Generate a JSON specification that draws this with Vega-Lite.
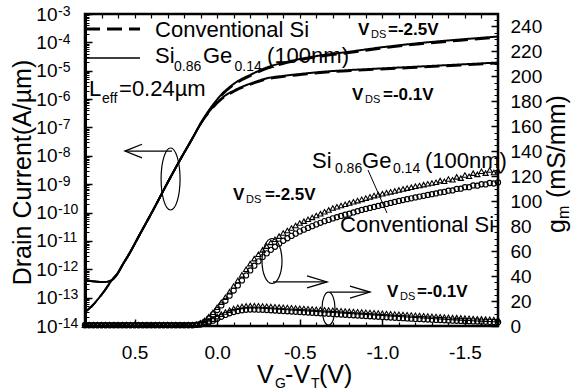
{
  "$schema": "https://vega.github.io/schema/vega-lite/v6.json",
  "width": 413,
  "height": 312,
  "autosize": {"type": "none"},
  "padding": {"left": 85, "top": 14, "right": 74, "bottom": 66},
  "background": "white",
  "config": {
    "font": "Liberation Sans",
    "view": {"stroke": "black", "strokeWidth": 2.5},
    "axis": {
      "grid": false,
      "labelColor": "black",
      "tickColor": "black",
      "domainColor": "black",
      "labelFont": "Liberation Sans",
      "labelFontSize": 19,
      "labelFlush": false,
      "labelOverlap": false,
      "labelBound": false,
      "titleColor": "black",
      "titleFont": "Liberation Sans",
      "titleFontWeight": "normal"
    }
  },
  "datasets": {
    "drain": [
      {"v": 0.8, "i": 4.18e-13, "c": "SiGe", "d": "-2.5"},
      {"v": 0.739, "i": 3.7e-13, "c": "SiGe", "d": "-2.5"},
      {"v": 0.679, "i": 3.55e-13, "c": "SiGe", "d": "-2.5"},
      {"v": 0.637, "i": 4.18e-13, "c": "SiGe", "d": "-2.5"},
      {"v": 0.6, "i": 7.38e-13, "c": "SiGe", "d": "-2.5"},
      {"v": 0.57, "i": 1.53e-12, "c": "SiGe", "d": "-2.5"},
      {"v": 0.54, "i": 2.93e-12, "c": "SiGe", "d": "-2.5"},
      {"v": 0.467, "i": 1.75e-11, "c": "SiGe", "d": "-2.5"},
      {"v": 0.394, "i": 1.04e-10, "c": "SiGe", "d": "-2.5"},
      {"v": 0.298, "i": 1.19e-9, "c": "SiGe", "d": "-2.5"},
      {"v": 0.225, "i": 7.11e-9, "c": "SiGe", "d": "-2.5"},
      {"v": 0.152, "i": 3.91e-8, "c": "SiGe", "d": "-2.5"},
      {"v": 0.092, "i": 1.69e-7, "c": "SiGe", "d": "-2.5"},
      {"v": 0.031, "i": 5.7e-7, "c": "SiGe", "d": "-2.5"},
      {"v": -0.029, "i": 1.51e-6, "c": "SiGe", "d": "-2.5"},
      {"v": -0.108, "i": 3.69e-6, "c": "SiGe", "d": "-2.5"},
      {"v": -0.211, "i": 7.66e-6, "c": "SiGe", "d": "-2.5"},
      {"v": -0.308, "i": 1.35e-5, "c": "SiGe", "d": "-2.5"},
      {"v": -0.392, "i": 1.87e-5, "c": "SiGe", "d": "-2.5"},
      {"v": -0.501, "i": 2.59e-5, "c": "SiGe", "d": "-2.5"},
      {"v": -0.623, "i": 3.44e-5, "c": "SiGe", "d": "-2.5"},
      {"v": -0.786, "i": 4.57e-5, "c": "SiGe", "d": "-2.5"},
      {"v": -0.986, "i": 6.59e-5, "c": "SiGe", "d": "-2.5"},
      {"v": -1.228, "i": 9.48e-5, "c": "SiGe", "d": "-2.5"},
      {"v": -1.47, "i": 1.26e-4, "c": "SiGe", "d": "-2.5"},
      {"v": -1.7, "i": 1.61e-4, "c": "SiGe", "d": "-2.5"},
      {"v": 0.8, "i": 4.18e-13, "c": "Si", "d": "-2.5"},
      {"v": 0.739, "i": 3.7e-13, "c": "Si", "d": "-2.5"},
      {"v": 0.679, "i": 3.55e-13, "c": "Si", "d": "-2.5"},
      {"v": 0.637, "i": 4.18e-13, "c": "Si", "d": "-2.5"},
      {"v": 0.6, "i": 7.38e-13, "c": "Si", "d": "-2.5"},
      {"v": 0.57, "i": 1.53e-12, "c": "Si", "d": "-2.5"},
      {"v": 0.54, "i": 2.93e-12, "c": "Si", "d": "-2.5"},
      {"v": 0.467, "i": 1.75e-11, "c": "Si", "d": "-2.5"},
      {"v": 0.394, "i": 1.04e-10, "c": "Si", "d": "-2.5"},
      {"v": 0.298, "i": 1.19e-9, "c": "Si", "d": "-2.5"},
      {"v": 0.225, "i": 7.11e-9, "c": "Si", "d": "-2.5"},
      {"v": 0.152, "i": 3.91e-8, "c": "Si", "d": "-2.5"},
      {"v": 0.092, "i": 1.6e-7, "c": "Si", "d": "-2.5"},
      {"v": 0.031, "i": 5.3e-7, "c": "Si", "d": "-2.5"},
      {"v": -0.029, "i": 1.38e-6, "c": "Si", "d": "-2.5"},
      {"v": -0.108, "i": 3.35e-6, "c": "Si", "d": "-2.5"},
      {"v": -0.211, "i": 6.9e-6, "c": "Si", "d": "-2.5"},
      {"v": -0.308, "i": 1.22e-5, "c": "Si", "d": "-2.5"},
      {"v": -0.392, "i": 1.69e-5, "c": "Si", "d": "-2.5"},
      {"v": -0.501, "i": 2.34e-5, "c": "Si", "d": "-2.5"},
      {"v": -0.623, "i": 3.1e-5, "c": "Si", "d": "-2.5"},
      {"v": -0.786, "i": 4.12e-5, "c": "Si", "d": "-2.5"},
      {"v": -0.986, "i": 5.95e-5, "c": "Si", "d": "-2.5"},
      {"v": -1.228, "i": 8.6e-5, "c": "Si", "d": "-2.5"},
      {"v": -1.47, "i": 1.14e-4, "c": "Si", "d": "-2.5"},
      {"v": -1.7, "i": 1.46e-4, "c": "Si", "d": "-2.5"},
      {"v": 0.8, "i": 3.1e-14, "c": "SiGe", "d": "-0.1"},
      {"v": 0.758, "i": 5.06e-14, "c": "SiGe", "d": "-0.1"},
      {"v": 0.721, "i": 8.93e-14, "c": "SiGe", "d": "-0.1"},
      {"v": 0.679, "i": 1.85e-13, "c": "SiGe", "d": "-0.1"},
      {"v": 0.637, "i": 4.18e-13, "c": "SiGe", "d": "-0.1"},
      {"v": 0.6, "i": 7.6e-13, "c": "SiGe", "d": "-0.1"},
      {"v": 0.57, "i": 1.53e-12, "c": "SiGe", "d": "-0.1"},
      {"v": 0.54, "i": 2.93e-12, "c": "SiGe", "d": "-0.1"},
      {"v": 0.467, "i": 1.75e-11, "c": "SiGe", "d": "-0.1"},
      {"v": 0.394, "i": 1.04e-10, "c": "SiGe", "d": "-0.1"},
      {"v": 0.298, "i": 1.19e-9, "c": "SiGe", "d": "-0.1"},
      {"v": 0.225, "i": 7.11e-9, "c": "SiGe", "d": "-0.1"},
      {"v": 0.152, "i": 3.91e-8, "c": "SiGe", "d": "-0.1"},
      {"v": 0.092, "i": 1.62e-7, "c": "SiGe", "d": "-0.1"},
      {"v": 0.031, "i": 4.85e-7, "c": "SiGe", "d": "-0.1"},
      {"v": -0.029, "i": 1.09e-6, "c": "SiGe", "d": "-0.1"},
      {"v": -0.108, "i": 2.09e-6, "c": "SiGe", "d": "-0.1"},
      {"v": -0.211, "i": 3.69e-6, "c": "SiGe", "d": "-0.1"},
      {"v": -0.308, "i": 5.53e-6, "c": "SiGe", "d": "-0.1"},
      {"v": -0.392, "i": 6.52e-6, "c": "SiGe", "d": "-0.1"},
      {"v": -0.501, "i": 7.66e-6, "c": "SiGe", "d": "-0.1"},
      {"v": -0.623, "i": 9.02e-6, "c": "SiGe", "d": "-0.1"},
      {"v": -0.804, "i": 1.06e-5, "c": "SiGe", "d": "-0.1"},
      {"v": -0.986, "i": 1.2e-5, "c": "SiGe", "d": "-0.1"},
      {"v": -1.228, "i": 1.41e-5, "c": "SiGe", "d": "-0.1"},
      {"v": -1.47, "i": 1.66e-5, "c": "SiGe", "d": "-0.1"},
      {"v": -1.7, "i": 1.95e-5, "c": "SiGe", "d": "-0.1"},
      {"v": 0.8, "i": 3.1e-14, "c": "Si", "d": "-0.1"},
      {"v": 0.758, "i": 5.06e-14, "c": "Si", "d": "-0.1"},
      {"v": 0.721, "i": 8.93e-14, "c": "Si", "d": "-0.1"},
      {"v": 0.679, "i": 1.85e-13, "c": "Si", "d": "-0.1"},
      {"v": 0.637, "i": 4.18e-13, "c": "Si", "d": "-0.1"},
      {"v": 0.6, "i": 7.6e-13, "c": "Si", "d": "-0.1"},
      {"v": 0.57, "i": 1.53e-12, "c": "Si", "d": "-0.1"},
      {"v": 0.54, "i": 2.93e-12, "c": "Si", "d": "-0.1"},
      {"v": 0.467, "i": 1.75e-11, "c": "Si", "d": "-0.1"},
      {"v": 0.394, "i": 1.04e-10, "c": "Si", "d": "-0.1"},
      {"v": 0.298, "i": 1.19e-9, "c": "Si", "d": "-0.1"},
      {"v": 0.225, "i": 7.11e-9, "c": "Si", "d": "-0.1"},
      {"v": 0.152, "i": 3.91e-8, "c": "Si", "d": "-0.1"},
      {"v": 0.092, "i": 1.55e-7, "c": "Si", "d": "-0.1"},
      {"v": 0.031, "i": 4.5e-7, "c": "Si", "d": "-0.1"},
      {"v": -0.029, "i": 1.0e-6, "c": "Si", "d": "-0.1"},
      {"v": -0.108, "i": 1.92e-6, "c": "Si", "d": "-0.1"},
      {"v": -0.211, "i": 3.4e-6, "c": "Si", "d": "-0.1"},
      {"v": -0.308, "i": 5.1e-6, "c": "Si", "d": "-0.1"},
      {"v": -0.392, "i": 6.0e-6, "c": "Si", "d": "-0.1"},
      {"v": -0.501, "i": 7.05e-6, "c": "Si", "d": "-0.1"},
      {"v": -0.623, "i": 8.3e-6, "c": "Si", "d": "-0.1"},
      {"v": -0.804, "i": 9.75e-6, "c": "Si", "d": "-0.1"},
      {"v": -0.986, "i": 1.1e-5, "c": "Si", "d": "-0.1"},
      {"v": -1.228, "i": 1.3e-5, "c": "Si", "d": "-0.1"},
      {"v": -1.47, "i": 1.53e-5, "c": "Si", "d": "-0.1"},
      {"v": -1.7, "i": 1.8e-5, "c": "Si", "d": "-0.1"}
    ],
    "key": [
      {"v": 0.8, "i": 2.96e-4, "c": "Si"},
      {"v": 0.467, "i": 2.96e-4, "c": "Si"},
      {"v": 0.8, "i": 2.81e-5, "c": "SiGe"},
      {"v": 0.467, "i": 2.81e-5, "c": "SiGe"}
    ],
    "decades": [
      {"v": 0.8, "i": 1e-3, "t": "-3"}, {"v": 0.8, "i": 1e-4, "t": "-4"}, {"v": 0.8, "i": 1e-5, "t": "-5"},
      {"v": 0.8, "i": 1e-6, "t": "-6"}, {"v": 0.8, "i": 1e-7, "t": "-7"}, {"v": 0.8, "i": 1e-8, "t": "-8"},
      {"v": 0.8, "i": 1e-9, "t": "-9"}, {"v": 0.8, "i": 1e-10, "t": "-10"}, {"v": 0.8, "i": 1e-11, "t": "-11"},
      {"v": 0.8, "i": 1e-12, "t": "-12"}, {"v": 0.8, "i": 1e-13, "t": "-13"}, {"v": 0.8, "i": 1e-14, "t": "-14"}
    ],
    "gm": [
      {"v":0.8,"g":0.7,"c":"Si","d":"-2.5"},{"v":0.775,"g":0.7,"c":"Si","d":"-2.5"},{"v":0.75,"g":0.7,"c":"Si","d":"-2.5"},{"v":0.725,"g":0.7,"c":"Si","d":"-2.5"},{"v":0.7,"g":0.7,"c":"Si","d":"-2.5"},{"v":0.675,"g":0.7,"c":"Si","d":"-2.5"},{"v":0.65,"g":0.7,"c":"Si","d":"-2.5"},{"v":0.625,"g":0.7,"c":"Si","d":"-2.5"},{"v":0.6,"g":0.7,"c":"Si","d":"-2.5"},{"v":0.575,"g":0.7,"c":"Si","d":"-2.5"},{"v":0.55,"g":0.7,"c":"Si","d":"-2.5"},{"v":0.525,"g":0.7,"c":"Si","d":"-2.5"},{"v":0.5,"g":0.7,"c":"Si","d":"-2.5"},{"v":0.475,"g":0.7,"c":"Si","d":"-2.5"},{"v":0.45,"g":0.7,"c":"Si","d":"-2.5"},{"v":0.425,"g":0.7,"c":"Si","d":"-2.5"},{"v":0.4,"g":0.7,"c":"Si","d":"-2.5"},{"v":0.375,"g":0.7,"c":"Si","d":"-2.5"},{"v":0.35,"g":0.7,"c":"Si","d":"-2.5"},{"v":0.325,"g":0.7,"c":"Si","d":"-2.5"},{"v":0.3,"g":0.7,"c":"Si","d":"-2.5"},{"v":0.275,"g":0.7,"c":"Si","d":"-2.5"},{"v":0.25,"g":0.7,"c":"Si","d":"-2.5"},{"v":0.225,"g":0.7,"c":"Si","d":"-2.5"},{"v":0.2,"g":0.7,"c":"Si","d":"-2.5"},{"v":0.175,"g":0.7,"c":"Si","d":"-2.5"},{"v":0.15,"g":0.7,"c":"Si","d":"-2.5"},
      {"v":0.125,"g":1,"c":"Si","d":"-2.5"},{"v":0.1,"g":1.8,"c":"Si","d":"-2.5"},{"v":0.075,"g":3.4,"c":"Si","d":"-2.5"},{"v":0.05,"g":6,"c":"Si","d":"-2.5"},{"v":0.025,"g":9.3,"c":"Si","d":"-2.5"},{"v":0,"g":12.8,"c":"Si","d":"-2.5"},{"v":-0.025,"g":16.5,"c":"Si","d":"-2.5"},{"v":-0.05,"g":20.2,"c":"Si","d":"-2.5"},{"v":-0.075,"g":24.3,"c":"Si","d":"-2.5"},{"v":-0.1,"g":28.4,"c":"Si","d":"-2.5"},{"v":-0.125,"g":32.5,"c":"Si","d":"-2.5"},{"v":-0.15,"g":36.5,"c":"Si","d":"-2.5"},{"v":-0.175,"g":40.5,"c":"Si","d":"-2.5"},{"v":-0.2,"g":44.5,"c":"Si","d":"-2.5"},{"v":-0.225,"g":48.3,"c":"Si","d":"-2.5"},{"v":-0.25,"g":51.8,"c":"Si","d":"-2.5"},{"v":-0.275,"g":55.2,"c":"Si","d":"-2.5"},{"v":-0.3,"g":58.2,"c":"Si","d":"-2.5"},{"v":-0.325,"g":61,"c":"Si","d":"-2.5"},{"v":-0.35,"g":63.5,"c":"Si","d":"-2.5"},{"v":-0.375,"g":66,"c":"Si","d":"-2.5"},{"v":-0.4,"g":68.3,"c":"Si","d":"-2.5"},{"v":-0.425,"g":70.3,"c":"Si","d":"-2.5"},{"v":-0.45,"g":72.2,"c":"Si","d":"-2.5"},{"v":-0.475,"g":74,"c":"Si","d":"-2.5"},{"v":-0.5,"g":75.8,"c":"Si","d":"-2.5"},{"v":-0.525,"g":77.2,"c":"Si","d":"-2.5"},{"v":-0.55,"g":78.6,"c":"Si","d":"-2.5"},{"v":-0.575,"g":80,"c":"Si","d":"-2.5"},{"v":-0.6,"g":81.4,"c":"Si","d":"-2.5"},{"v":-0.625,"g":82.7,"c":"Si","d":"-2.5"},{"v":-0.65,"g":84,"c":"Si","d":"-2.5"},{"v":-0.675,"g":85,"c":"Si","d":"-2.5"},{"v":-0.7,"g":86.2,"c":"Si","d":"-2.5"},{"v":-0.725,"g":87.2,"c":"Si","d":"-2.5"},{"v":-0.75,"g":88.2,"c":"Si","d":"-2.5"},{"v":-0.775,"g":89.2,"c":"Si","d":"-2.5"},{"v":-0.8,"g":90,"c":"Si","d":"-2.5"},{"v":-0.825,"g":91,"c":"Si","d":"-2.5"},{"v":-0.85,"g":92,"c":"Si","d":"-2.5"},{"v":-0.875,"g":93,"c":"Si","d":"-2.5"},{"v":-0.9,"g":93.8,"c":"Si","d":"-2.5"},{"v":-0.925,"g":94.6,"c":"Si","d":"-2.5"},{"v":-0.95,"g":95.4,"c":"Si","d":"-2.5"},{"v":-0.975,"g":96.2,"c":"Si","d":"-2.5"},{"v":-1,"g":97,"c":"Si","d":"-2.5"},{"v":-1.025,"g":97.8,"c":"Si","d":"-2.5"},{"v":-1.05,"g":98.6,"c":"Si","d":"-2.5"},{"v":-1.075,"g":99.4,"c":"Si","d":"-2.5"},{"v":-1.1,"g":100.2,"c":"Si","d":"-2.5"},{"v":-1.125,"g":100.9,"c":"Si","d":"-2.5"},{"v":-1.15,"g":101.6,"c":"Si","d":"-2.5"},{"v":-1.175,"g":102.3,"c":"Si","d":"-2.5"},{"v":-1.2,"g":103,"c":"Si","d":"-2.5"},{"v":-1.225,"g":103.7,"c":"Si","d":"-2.5"},{"v":-1.25,"g":104.3,"c":"Si","d":"-2.5"},{"v":-1.275,"g":105,"c":"Si","d":"-2.5"},{"v":-1.3,"g":105.6,"c":"Si","d":"-2.5"},{"v":-1.325,"g":106.2,"c":"Si","d":"-2.5"},{"v":-1.35,"g":107,"c":"Si","d":"-2.5"},{"v":-1.375,"g":107.4,"c":"Si","d":"-2.5"},{"v":-1.4,"g":108.4,"c":"Si","d":"-2.5"},{"v":-1.425,"g":108.6,"c":"Si","d":"-2.5"},{"v":-1.45,"g":109.8,"c":"Si","d":"-2.5"},{"v":-1.475,"g":110,"c":"Si","d":"-2.5"},{"v":-1.5,"g":111.2,"c":"Si","d":"-2.5"},{"v":-1.525,"g":111.2,"c":"Si","d":"-2.5"},{"v":-1.55,"g":112.6,"c":"Si","d":"-2.5"},{"v":-1.575,"g":112.4,"c":"Si","d":"-2.5"},{"v":-1.6,"g":113.6,"c":"Si","d":"-2.5"},{"v":-1.625,"g":113.4,"c":"Si","d":"-2.5"},{"v":-1.65,"g":114.6,"c":"Si","d":"-2.5"},{"v":-1.675,"g":114.2,"c":"Si","d":"-2.5"},{"v":-1.7,"g":115,"c":"Si","d":"-2.5"},
      {"v":0.8,"g":0.7,"c":"Si","d":"-0.1"},{"v":0.775,"g":0.7,"c":"Si","d":"-0.1"},{"v":0.75,"g":0.7,"c":"Si","d":"-0.1"},{"v":0.725,"g":0.7,"c":"Si","d":"-0.1"},{"v":0.7,"g":0.7,"c":"Si","d":"-0.1"},{"v":0.675,"g":0.7,"c":"Si","d":"-0.1"},{"v":0.65,"g":0.7,"c":"Si","d":"-0.1"},{"v":0.625,"g":0.7,"c":"Si","d":"-0.1"},{"v":0.6,"g":0.7,"c":"Si","d":"-0.1"},{"v":0.575,"g":0.7,"c":"Si","d":"-0.1"},{"v":0.55,"g":0.7,"c":"Si","d":"-0.1"},{"v":0.525,"g":0.7,"c":"Si","d":"-0.1"},{"v":0.5,"g":0.7,"c":"Si","d":"-0.1"},{"v":0.475,"g":0.7,"c":"Si","d":"-0.1"},{"v":0.45,"g":0.7,"c":"Si","d":"-0.1"},{"v":0.425,"g":0.7,"c":"Si","d":"-0.1"},{"v":0.4,"g":0.7,"c":"Si","d":"-0.1"},{"v":0.375,"g":0.7,"c":"Si","d":"-0.1"},{"v":0.35,"g":0.7,"c":"Si","d":"-0.1"},{"v":0.325,"g":0.7,"c":"Si","d":"-0.1"},{"v":0.3,"g":0.7,"c":"Si","d":"-0.1"},{"v":0.275,"g":0.7,"c":"Si","d":"-0.1"},{"v":0.25,"g":0.7,"c":"Si","d":"-0.1"},{"v":0.225,"g":0.7,"c":"Si","d":"-0.1"},{"v":0.2,"g":0.7,"c":"Si","d":"-0.1"},{"v":0.175,"g":0.7,"c":"Si","d":"-0.1"},{"v":0.15,"g":0.7,"c":"Si","d":"-0.1"},
      {"v":0.125,"g":0.9,"c":"Si","d":"-0.1"},{"v":0.1,"g":1.2,"c":"Si","d":"-0.1"},{"v":0.075,"g":2,"c":"Si","d":"-0.1"},{"v":0.05,"g":3,"c":"Si","d":"-0.1"},{"v":0.025,"g":4.3,"c":"Si","d":"-0.1"},{"v":0,"g":5.8,"c":"Si","d":"-0.1"},{"v":-0.025,"g":7.4,"c":"Si","d":"-0.1"},{"v":-0.05,"g":8.9,"c":"Si","d":"-0.1"},{"v":-0.075,"g":10.2,"c":"Si","d":"-0.1"},{"v":-0.1,"g":11.2,"c":"Si","d":"-0.1"},{"v":-0.125,"g":12,"c":"Si","d":"-0.1"},{"v":-0.15,"g":12.6,"c":"Si","d":"-0.1"},{"v":-0.175,"g":13,"c":"Si","d":"-0.1"},{"v":-0.2,"g":13.2,"c":"Si","d":"-0.1"},{"v":-0.225,"g":13.2,"c":"Si","d":"-0.1"},{"v":-0.25,"g":13.1,"c":"Si","d":"-0.1"},{"v":-0.275,"g":13,"c":"Si","d":"-0.1"},{"v":-0.3,"g":12.8,"c":"Si","d":"-0.1"},{"v":-0.325,"g":12.6,"c":"Si","d":"-0.1"},{"v":-0.35,"g":12.4,"c":"Si","d":"-0.1"},{"v":-0.375,"g":12.2,"c":"Si","d":"-0.1"},{"v":-0.4,"g":12,"c":"Si","d":"-0.1"},{"v":-0.425,"g":11.8,"c":"Si","d":"-0.1"},{"v":-0.45,"g":11.6,"c":"Si","d":"-0.1"},{"v":-0.475,"g":11.4,"c":"Si","d":"-0.1"},{"v":-0.5,"g":11.2,"c":"Si","d":"-0.1"},{"v":-0.525,"g":11,"c":"Si","d":"-0.1"},{"v":-0.55,"g":10.8,"c":"Si","d":"-0.1"},{"v":-0.575,"g":10.6,"c":"Si","d":"-0.1"},{"v":-0.6,"g":10.4,"c":"Si","d":"-0.1"},{"v":-0.625,"g":10.2,"c":"Si","d":"-0.1"},{"v":-0.65,"g":10,"c":"Si","d":"-0.1"},{"v":-0.675,"g":9.8,"c":"Si","d":"-0.1"},{"v":-0.7,"g":9.6,"c":"Si","d":"-0.1"},{"v":-0.725,"g":9.4,"c":"Si","d":"-0.1"},{"v":-0.75,"g":9.2,"c":"Si","d":"-0.1"},{"v":-0.775,"g":9,"c":"Si","d":"-0.1"},{"v":-0.8,"g":8.8,"c":"Si","d":"-0.1"},{"v":-0.825,"g":8.6,"c":"Si","d":"-0.1"},{"v":-0.85,"g":8.4,"c":"Si","d":"-0.1"},{"v":-0.875,"g":8.2,"c":"Si","d":"-0.1"},{"v":-0.9,"g":8,"c":"Si","d":"-0.1"},{"v":-0.925,"g":7.8,"c":"Si","d":"-0.1"},{"v":-0.95,"g":7.6,"c":"Si","d":"-0.1"},{"v":-0.975,"g":7.4,"c":"Si","d":"-0.1"},{"v":-1,"g":7.2,"c":"Si","d":"-0.1"},{"v":-1.025,"g":7,"c":"Si","d":"-0.1"},{"v":-1.05,"g":6.8,"c":"Si","d":"-0.1"},{"v":-1.075,"g":6.6,"c":"Si","d":"-0.1"},{"v":-1.1,"g":6.4,"c":"Si","d":"-0.1"},{"v":-1.125,"g":6.3,"c":"Si","d":"-0.1"},{"v":-1.15,"g":6.1,"c":"Si","d":"-0.1"},{"v":-1.175,"g":5.9,"c":"Si","d":"-0.1"},{"v":-1.2,"g":5.7,"c":"Si","d":"-0.1"},{"v":-1.225,"g":5.6,"c":"Si","d":"-0.1"},{"v":-1.25,"g":5.4,"c":"Si","d":"-0.1"},{"v":-1.275,"g":5.2,"c":"Si","d":"-0.1"},{"v":-1.3,"g":5.1,"c":"Si","d":"-0.1"},{"v":-1.325,"g":4.9,"c":"Si","d":"-0.1"},{"v":-1.35,"g":4.8,"c":"Si","d":"-0.1"},{"v":-1.375,"g":4.6,"c":"Si","d":"-0.1"},{"v":-1.4,"g":4.5,"c":"Si","d":"-0.1"},{"v":-1.425,"g":4.3,"c":"Si","d":"-0.1"},{"v":-1.45,"g":4.2,"c":"Si","d":"-0.1"},{"v":-1.475,"g":4.1,"c":"Si","d":"-0.1"},{"v":-1.5,"g":3.9,"c":"Si","d":"-0.1"},{"v":-1.525,"g":3.8,"c":"Si","d":"-0.1"},{"v":-1.55,"g":3.7,"c":"Si","d":"-0.1"},{"v":-1.575,"g":3.6,"c":"Si","d":"-0.1"},{"v":-1.6,"g":3.5,"c":"Si","d":"-0.1"},{"v":-1.625,"g":3.4,"c":"Si","d":"-0.1"},{"v":-1.65,"g":3.3,"c":"Si","d":"-0.1"},{"v":-1.675,"g":3.2,"c":"Si","d":"-0.1"},{"v":-1.7,"g":3.1,"c":"Si","d":"-0.1"},
      {"v":0.8,"g":0.9,"c":"SiGe","d":"-2.5"},{"v":0.775,"g":0.9,"c":"SiGe","d":"-2.5"},{"v":0.75,"g":0.9,"c":"SiGe","d":"-2.5"},{"v":0.725,"g":0.9,"c":"SiGe","d":"-2.5"},{"v":0.7,"g":0.9,"c":"SiGe","d":"-2.5"},{"v":0.675,"g":0.9,"c":"SiGe","d":"-2.5"},{"v":0.65,"g":0.9,"c":"SiGe","d":"-2.5"},{"v":0.625,"g":0.9,"c":"SiGe","d":"-2.5"},{"v":0.6,"g":0.9,"c":"SiGe","d":"-2.5"},{"v":0.575,"g":0.9,"c":"SiGe","d":"-2.5"},{"v":0.55,"g":0.9,"c":"SiGe","d":"-2.5"},{"v":0.525,"g":0.9,"c":"SiGe","d":"-2.5"},{"v":0.5,"g":0.9,"c":"SiGe","d":"-2.5"},{"v":0.475,"g":0.9,"c":"SiGe","d":"-2.5"},{"v":0.45,"g":0.9,"c":"SiGe","d":"-2.5"},{"v":0.425,"g":0.9,"c":"SiGe","d":"-2.5"},{"v":0.4,"g":0.9,"c":"SiGe","d":"-2.5"},{"v":0.375,"g":0.9,"c":"SiGe","d":"-2.5"},{"v":0.35,"g":0.9,"c":"SiGe","d":"-2.5"},{"v":0.325,"g":0.9,"c":"SiGe","d":"-2.5"},{"v":0.3,"g":0.9,"c":"SiGe","d":"-2.5"},{"v":0.275,"g":0.9,"c":"SiGe","d":"-2.5"},{"v":0.25,"g":0.9,"c":"SiGe","d":"-2.5"},{"v":0.225,"g":0.9,"c":"SiGe","d":"-2.5"},{"v":0.2,"g":0.9,"c":"SiGe","d":"-2.5"},{"v":0.175,"g":0.9,"c":"SiGe","d":"-2.5"},{"v":0.15,"g":0.9,"c":"SiGe","d":"-2.5"},
      {"v":0.125,"g":1.2,"c":"SiGe","d":"-2.5"},{"v":0.1,"g":2.5,"c":"SiGe","d":"-2.5"},{"v":0.075,"g":4.5,"c":"SiGe","d":"-2.5"},{"v":0.05,"g":7.5,"c":"SiGe","d":"-2.5"},{"v":0.025,"g":11,"c":"SiGe","d":"-2.5"},{"v":0,"g":15,"c":"SiGe","d":"-2.5"},{"v":-0.025,"g":19,"c":"SiGe","d":"-2.5"},{"v":-0.05,"g":23,"c":"SiGe","d":"-2.5"},{"v":-0.075,"g":27.5,"c":"SiGe","d":"-2.5"},{"v":-0.1,"g":32,"c":"SiGe","d":"-2.5"},{"v":-0.125,"g":36.5,"c":"SiGe","d":"-2.5"},{"v":-0.15,"g":41,"c":"SiGe","d":"-2.5"},{"v":-0.175,"g":45.5,"c":"SiGe","d":"-2.5"},{"v":-0.2,"g":50,"c":"SiGe","d":"-2.5"},{"v":-0.225,"g":54,"c":"SiGe","d":"-2.5"},{"v":-0.25,"g":57.5,"c":"SiGe","d":"-2.5"},{"v":-0.275,"g":61,"c":"SiGe","d":"-2.5"},{"v":-0.3,"g":64,"c":"SiGe","d":"-2.5"},{"v":-0.325,"g":67,"c":"SiGe","d":"-2.5"},{"v":-0.35,"g":69.5,"c":"SiGe","d":"-2.5"},{"v":-0.375,"g":72,"c":"SiGe","d":"-2.5"},{"v":-0.4,"g":74.5,"c":"SiGe","d":"-2.5"},{"v":-0.425,"g":76.5,"c":"SiGe","d":"-2.5"},{"v":-0.45,"g":78.5,"c":"SiGe","d":"-2.5"},{"v":-0.475,"g":80.5,"c":"SiGe","d":"-2.5"},{"v":-0.5,"g":82.5,"c":"SiGe","d":"-2.5"},{"v":-0.525,"g":84,"c":"SiGe","d":"-2.5"},{"v":-0.55,"g":85.5,"c":"SiGe","d":"-2.5"},{"v":-0.575,"g":87,"c":"SiGe","d":"-2.5"},{"v":-0.6,"g":88.5,"c":"SiGe","d":"-2.5"},{"v":-0.625,"g":90,"c":"SiGe","d":"-2.5"},{"v":-0.65,"g":91.5,"c":"SiGe","d":"-2.5"},{"v":-0.675,"g":93,"c":"SiGe","d":"-2.5"},{"v":-0.7,"g":94.5,"c":"SiGe","d":"-2.5"},{"v":-0.725,"g":95.5,"c":"SiGe","d":"-2.5"},{"v":-0.75,"g":96.5,"c":"SiGe","d":"-2.5"},{"v":-0.775,"g":97.5,"c":"SiGe","d":"-2.5"},{"v":-0.8,"g":98.5,"c":"SiGe","d":"-2.5"},{"v":-0.825,"g":99.5,"c":"SiGe","d":"-2.5"},{"v":-0.85,"g":100.5,"c":"SiGe","d":"-2.5"},{"v":-0.875,"g":101.5,"c":"SiGe","d":"-2.5"},{"v":-0.9,"g":102.5,"c":"SiGe","d":"-2.5"},{"v":-0.925,"g":103.5,"c":"SiGe","d":"-2.5"},{"v":-0.95,"g":104.5,"c":"SiGe","d":"-2.5"},{"v":-0.975,"g":105.2,"c":"SiGe","d":"-2.5"},{"v":-1,"g":106,"c":"SiGe","d":"-2.5"},{"v":-1.025,"g":106.8,"c":"SiGe","d":"-2.5"},{"v":-1.05,"g":107.5,"c":"SiGe","d":"-2.5"},{"v":-1.075,"g":108.2,"c":"SiGe","d":"-2.5"},{"v":-1.1,"g":109,"c":"SiGe","d":"-2.5"},{"v":-1.125,"g":109.8,"c":"SiGe","d":"-2.5"},{"v":-1.15,"g":110.5,"c":"SiGe","d":"-2.5"},{"v":-1.175,"g":111.2,"c":"SiGe","d":"-2.5"},{"v":-1.2,"g":112,"c":"SiGe","d":"-2.5"},{"v":-1.225,"g":112.6,"c":"SiGe","d":"-2.5"},{"v":-1.25,"g":113.3,"c":"SiGe","d":"-2.5"},{"v":-1.275,"g":114,"c":"SiGe","d":"-2.5"},{"v":-1.3,"g":114.6,"c":"SiGe","d":"-2.5"},{"v":-1.325,"g":115.2,"c":"SiGe","d":"-2.5"},{"v":-1.35,"g":116.5,"c":"SiGe","d":"-2.5"},{"v":-1.375,"g":116,"c":"SiGe","d":"-2.5"},{"v":-1.4,"g":117.8,"c":"SiGe","d":"-2.5"},{"v":-1.425,"g":117.2,"c":"SiGe","d":"-2.5"},{"v":-1.45,"g":119.5,"c":"SiGe","d":"-2.5"},{"v":-1.475,"g":118.5,"c":"SiGe","d":"-2.5"},{"v":-1.5,"g":121,"c":"SiGe","d":"-2.5"},{"v":-1.525,"g":120,"c":"SiGe","d":"-2.5"},{"v":-1.55,"g":122.5,"c":"SiGe","d":"-2.5"},{"v":-1.575,"g":121.5,"c":"SiGe","d":"-2.5"},{"v":-1.6,"g":124,"c":"SiGe","d":"-2.5"},{"v":-1.625,"g":122.5,"c":"SiGe","d":"-2.5"},{"v":-1.65,"g":125,"c":"SiGe","d":"-2.5"},{"v":-1.675,"g":123,"c":"SiGe","d":"-2.5"},{"v":-1.7,"g":124.5,"c":"SiGe","d":"-2.5"},
      {"v":0.8,"g":0.9,"c":"SiGe","d":"-0.1"},{"v":0.775,"g":0.9,"c":"SiGe","d":"-0.1"},{"v":0.75,"g":0.9,"c":"SiGe","d":"-0.1"},{"v":0.725,"g":0.9,"c":"SiGe","d":"-0.1"},{"v":0.7,"g":0.9,"c":"SiGe","d":"-0.1"},{"v":0.675,"g":0.9,"c":"SiGe","d":"-0.1"},{"v":0.65,"g":0.9,"c":"SiGe","d":"-0.1"},{"v":0.625,"g":0.9,"c":"SiGe","d":"-0.1"},{"v":0.6,"g":0.9,"c":"SiGe","d":"-0.1"},{"v":0.575,"g":0.9,"c":"SiGe","d":"-0.1"},{"v":0.55,"g":0.9,"c":"SiGe","d":"-0.1"},{"v":0.525,"g":0.9,"c":"SiGe","d":"-0.1"},{"v":0.5,"g":0.9,"c":"SiGe","d":"-0.1"},{"v":0.475,"g":0.9,"c":"SiGe","d":"-0.1"},{"v":0.45,"g":0.9,"c":"SiGe","d":"-0.1"},{"v":0.425,"g":0.9,"c":"SiGe","d":"-0.1"},{"v":0.4,"g":0.9,"c":"SiGe","d":"-0.1"},{"v":0.375,"g":0.9,"c":"SiGe","d":"-0.1"},{"v":0.35,"g":0.9,"c":"SiGe","d":"-0.1"},{"v":0.325,"g":0.9,"c":"SiGe","d":"-0.1"},{"v":0.3,"g":0.9,"c":"SiGe","d":"-0.1"},{"v":0.275,"g":0.9,"c":"SiGe","d":"-0.1"},{"v":0.25,"g":0.9,"c":"SiGe","d":"-0.1"},{"v":0.225,"g":0.9,"c":"SiGe","d":"-0.1"},{"v":0.2,"g":0.9,"c":"SiGe","d":"-0.1"},{"v":0.175,"g":0.9,"c":"SiGe","d":"-0.1"},{"v":0.15,"g":0.9,"c":"SiGe","d":"-0.1"},
      {"v":0.125,"g":1,"c":"SiGe","d":"-0.1"},{"v":0.1,"g":1.5,"c":"SiGe","d":"-0.1"},{"v":0.075,"g":2.5,"c":"SiGe","d":"-0.1"},{"v":0.05,"g":4,"c":"SiGe","d":"-0.1"},{"v":0.025,"g":5.5,"c":"SiGe","d":"-0.1"},{"v":0,"g":7.5,"c":"SiGe","d":"-0.1"},{"v":-0.025,"g":9.5,"c":"SiGe","d":"-0.1"},{"v":-0.05,"g":11.2,"c":"SiGe","d":"-0.1"},{"v":-0.075,"g":12.7,"c":"SiGe","d":"-0.1"},{"v":-0.1,"g":14,"c":"SiGe","d":"-0.1"},{"v":-0.125,"g":15,"c":"SiGe","d":"-0.1"},{"v":-0.15,"g":15.7,"c":"SiGe","d":"-0.1"},{"v":-0.175,"g":16.1,"c":"SiGe","d":"-0.1"},{"v":-0.2,"g":16.3,"c":"SiGe","d":"-0.1"},{"v":-0.225,"g":16.3,"c":"SiGe","d":"-0.1"},{"v":-0.25,"g":16.2,"c":"SiGe","d":"-0.1"},{"v":-0.275,"g":16,"c":"SiGe","d":"-0.1"},{"v":-0.3,"g":15.8,"c":"SiGe","d":"-0.1"},{"v":-0.325,"g":15.6,"c":"SiGe","d":"-0.1"},{"v":-0.35,"g":15.4,"c":"SiGe","d":"-0.1"},{"v":-0.375,"g":15.2,"c":"SiGe","d":"-0.1"},{"v":-0.4,"g":15,"c":"SiGe","d":"-0.1"},{"v":-0.425,"g":14.8,"c":"SiGe","d":"-0.1"},{"v":-0.45,"g":14.6,"c":"SiGe","d":"-0.1"},{"v":-0.475,"g":14.4,"c":"SiGe","d":"-0.1"},{"v":-0.5,"g":14.2,"c":"SiGe","d":"-0.1"},{"v":-0.525,"g":14,"c":"SiGe","d":"-0.1"},{"v":-0.55,"g":13.8,"c":"SiGe","d":"-0.1"},{"v":-0.575,"g":13.6,"c":"SiGe","d":"-0.1"},{"v":-0.6,"g":13.4,"c":"SiGe","d":"-0.1"},{"v":-0.625,"g":13.2,"c":"SiGe","d":"-0.1"},{"v":-0.65,"g":13,"c":"SiGe","d":"-0.1"},{"v":-0.675,"g":12.8,"c":"SiGe","d":"-0.1"},{"v":-0.7,"g":12.6,"c":"SiGe","d":"-0.1"},{"v":-0.725,"g":12.4,"c":"SiGe","d":"-0.1"},{"v":-0.75,"g":12.2,"c":"SiGe","d":"-0.1"},{"v":-0.775,"g":12,"c":"SiGe","d":"-0.1"},{"v":-0.8,"g":11.8,"c":"SiGe","d":"-0.1"},{"v":-0.825,"g":11.6,"c":"SiGe","d":"-0.1"},{"v":-0.85,"g":11.4,"c":"SiGe","d":"-0.1"},{"v":-0.875,"g":11.2,"c":"SiGe","d":"-0.1"},{"v":-0.9,"g":11,"c":"SiGe","d":"-0.1"},{"v":-0.925,"g":10.8,"c":"SiGe","d":"-0.1"},{"v":-0.95,"g":10.6,"c":"SiGe","d":"-0.1"},{"v":-0.975,"g":10.4,"c":"SiGe","d":"-0.1"},{"v":-1,"g":10.2,"c":"SiGe","d":"-0.1"},{"v":-1.025,"g":10,"c":"SiGe","d":"-0.1"},{"v":-1.05,"g":9.8,"c":"SiGe","d":"-0.1"},{"v":-1.075,"g":9.6,"c":"SiGe","d":"-0.1"},{"v":-1.1,"g":9.4,"c":"SiGe","d":"-0.1"},{"v":-1.125,"g":9.2,"c":"SiGe","d":"-0.1"},{"v":-1.15,"g":9,"c":"SiGe","d":"-0.1"},{"v":-1.175,"g":8.8,"c":"SiGe","d":"-0.1"},{"v":-1.2,"g":8.6,"c":"SiGe","d":"-0.1"},{"v":-1.225,"g":8.4,"c":"SiGe","d":"-0.1"},{"v":-1.25,"g":8.2,"c":"SiGe","d":"-0.1"},{"v":-1.275,"g":8,"c":"SiGe","d":"-0.1"},{"v":-1.3,"g":7.8,"c":"SiGe","d":"-0.1"},{"v":-1.325,"g":7.6,"c":"SiGe","d":"-0.1"},{"v":-1.35,"g":7.4,"c":"SiGe","d":"-0.1"},{"v":-1.375,"g":7.2,"c":"SiGe","d":"-0.1"},{"v":-1.4,"g":7,"c":"SiGe","d":"-0.1"},{"v":-1.425,"g":6.8,"c":"SiGe","d":"-0.1"},{"v":-1.45,"g":6.7,"c":"SiGe","d":"-0.1"},{"v":-1.475,"g":6.5,"c":"SiGe","d":"-0.1"},{"v":-1.5,"g":6.3,"c":"SiGe","d":"-0.1"},{"v":-1.525,"g":6.2,"c":"SiGe","d":"-0.1"},{"v":-1.55,"g":6,"c":"SiGe","d":"-0.1"},{"v":-1.575,"g":5.8,"c":"SiGe","d":"-0.1"},{"v":-1.6,"g":5.7,"c":"SiGe","d":"-0.1"},{"v":-1.625,"g":5.5,"c":"SiGe","d":"-0.1"},{"v":-1.65,"g":5.4,"c":"SiGe","d":"-0.1"},{"v":-1.675,"g":5.2,"c":"SiGe","d":"-0.1"},{"v":-1.7,"g":5.1,"c":"SiGe","d":"-0.1"}
    ],
    "big": [
      {"v": 0.376, "g": 231.6, "t": "Conventional Si"},
      {"v": 0.376, "g": 210.7, "t": "Si"},
      {"v": 0.086, "g": 210.7, "t": "Ge"},
      {"v": -0.302, "g": 210.7, "t": "(100nm)"},
      {"v": 0.776, "g": 184.3, "t": "L"},
      {"v": 0.594, "g": 184.3, "t": "=0.24µm"},
      {"v": -0.574, "g": 126.6, "t": "Si"},
      {"v": -0.877, "g": 126.6, "t": "Ge"},
      {"v": -1.258, "g": 126.6, "t": "(100nm)"},
      {"v": -0.744, "g": 75.3, "t": "Conventional Si"}
    ],
    "small": [
      {"v": 0.261, "g": 204.6, "t": "0.86"},
      {"v": -0.105, "g": 204.6, "t": "0.14"},
      {"v": 0.697, "g": 178.7, "t": "eff"},
      {"v": -0.713, "g": 122.6, "t": "0.86"},
      {"v": -1.064, "g": 122.6, "t": "0.14"}
    ],
    "bold": [
      {"v": -0.853, "g": 233.2, "t": "V"},
      {"v": -1.034, "g": 233.2, "t": "=-2.5V"},
      {"v": -0.816, "g": 181.1, "t": "V"},
      {"v": -1.004, "g": 181.1, "t": "=-0.1V"},
      {"v": -0.096, "g": 101.0, "t": "V"},
      {"v": -0.29, "g": 101.0, "t": "=-2.5V"},
      {"v": -1.028, "g": 23.2, "t": "V"},
      {"v": -1.21, "g": 23.2, "t": "=-0.1V"}
    ],
    "tiny": [
      {"v": -0.931, "g": 230.8, "t": "DS"},
      {"v": -0.895, "g": 178.7, "t": "DS"},
      {"v": -0.175, "g": 98.6, "t": "DS"},
      {"v": -1.107, "g": 20.8, "t": "DS"}
    ],
    "xtitle": [
      {"v": -0.241, "g": -45.7, "t": "V"},
      {"v": -0.411, "g": -45.7, "t": "-V"},
      {"v": -0.616, "g": -45.7, "t": "(V)"}
    ],
    "xsub": [
      {"v": -0.35, "g": -49.7, "t": "G"},
      {"v": -0.568, "g": -49.7, "t": "T"}
    ],
    "rtitle": [
      {"v": -2.106, "g": 74.5, "t": "g"},
      {"v": -2.106, "g": 102.6, "t": "(mS/mm)"}
    ],
    "rsub": [
      {"v": -2.13, "g": 85.7, "t": "m"}
    ],
    "arrows": [
      {"v": 0.273, "v2": 0.558, "g": 140.2},
      {"v": -0.338, "v2": -0.665, "g": 35.3},
      {"v": -0.683, "v2": -0.925, "g": 27.2}
    ],
    "lead": [
      {"v": -0.913, "g": 125, "v2": -1.028, "g2": 90.5}
    ]
  },
  "layer": [
    {
      "encoding": {
        "x": {"field": "v", "type": "quantitative",
          "scale": {"domain": [0.8, -1.7], "nice": false, "zero": false},
          "axis": {"orient": "bottom", "values": [0.5, 0, -0.5, -1, -1.5],
            "labelExpr": "replace(format(datum.value, '.1f'), '\u2212', '-')",
            "labelBaseline": "alphabetic", "labelPadding": 39,
            "tickSize": -7, "tickWidth": 1.5, "domain": false, "title": null}},
        "y": {"field": "i", "type": "quantitative",
          "scale": {"type": "log", "domain": [1e-14, 1e-3], "nice": false},
          "axis": {"orient": "left",
            "values": [1e-14, 1e-13, 1e-12, 1e-11, 1e-10, 1e-9, 1e-8, 1e-7, 1e-6, 1e-5, 1e-4, 1e-3],
            "labelExpr": "'10'", "labelAlign": "right", "labelBaseline": "middle", "labelPadding": 35,
            "tickSize": -7, "tickWidth": 1.5, "domain": true, "domainWidth": 3,
            "title": "Drain Current(A/µm)", "titleFontSize": 25, "titleAngle": 270,
            "titleX": -55, "titleY": 158, "titleAlign": "center", "titleBaseline": "alphabetic"}}
      },
      "layer": [
        {
          "data": {"name": "drain"},
          "mark": {"type": "line", "interpolate": "monotone", "strokeWidth": 2, "color": "black"},
          "encoding": {
            "detail": {"field": "d"},
            "strokeDash": {"field": "c", "type": "nominal",
              "scale": {"domain": ["Si", "SiGe"], "range": [[15, 7], [1, 0]]}, "legend": null}
          }
        },
        {
          "data": {"name": "key"},
          "transform": [{"filter": "datum.c == 'Si'"}],
          "mark": {"type": "line", "strokeWidth": 2.8, "color": "black"},
          "encoding": {"strokeDash": {"field": "c", "type": "nominal", "legend": null}}
        },
        {
          "data": {"name": "key"},
          "transform": [{"filter": "datum.c == 'SiGe'"}],
          "mark": {"type": "line", "strokeWidth": 1.6, "color": "black"},
          "encoding": {"strokeDash": {"field": "c", "type": "nominal", "legend": null}}
        },
        {
          "data": {"name": "decades"},
          "mark": {"type": "text", "align": "left", "baseline": "alphabetic", "dx": -27, "dy": 1.5, "fontSize": 14, "color": "black"},
          "encoding": {"text": {"field": "t", "type": "nominal"}}
        }
      ]
    },
    {
      "encoding": {
        "x": {"field": "v", "type": "quantitative",
          "scale": {"domain": [0.8, -1.7], "nice": false, "zero": false}, "axis": null},
        "y": {"field": "g", "type": "quantitative",
          "scale": {"domain": [0, 250], "nice": false, "zero": false},
          "axis": {"orient": "right", "values": [0, 20, 40, 60, 80, 100, 120, 140, 160, 180, 200, 220, 240],
            "labelAlign": "left", "labelBaseline": "middle", "labelPadding": 19,
            "tickSize": -7, "tickWidth": 1.5, "domain": false, "title": null}}
      },
      "layer": [
        {
          "data": {"name": "gm"},
          "mark": {"type": "point", "filled": false, "size": 27, "strokeWidth": 1.1, "color": "black", "opacity": 1},
          "encoding": {
            "shape": {"field": "c", "type": "nominal",
              "scale": {"domain": ["SiGe", "Si"], "range": ["triangle-up", "circle"]}, "legend": null}
          }
        },
        {
          "data": {"name": "big"},
          "mark": {"type": "text", "align": "left", "baseline": "alphabetic", "fontSize": 22, "color": "black"},
          "encoding": {"text": {"field": "t", "type": "nominal"}}
        },
        {
          "data": {"name": "small"},
          "mark": {"type": "text", "align": "left", "baseline": "alphabetic", "fontSize": 14, "color": "black"},
          "encoding": {"text": {"field": "t", "type": "nominal"}}
        },
        {
          "data": {"name": "bold"},
          "mark": {"type": "text", "align": "left", "baseline": "alphabetic", "fontSize": 17, "fontWeight": "bold", "color": "black"},
          "encoding": {"text": {"field": "t", "type": "nominal"}}
        },
        {
          "data": {"name": "tiny"},
          "mark": {"type": "text", "align": "left", "baseline": "alphabetic", "fontSize": 11, "color": "black"},
          "encoding": {"text": {"field": "t", "type": "nominal"}}
        },
        {
          "data": {"name": "xtitle"},
          "mark": {"type": "text", "align": "left", "baseline": "alphabetic", "fontSize": 25, "color": "black"},
          "encoding": {"text": {"field": "t", "type": "nominal"}}
        },
        {
          "data": {"name": "xsub"},
          "mark": {"type": "text", "align": "left", "baseline": "alphabetic", "fontSize": 14, "color": "black"},
          "encoding": {"text": {"field": "t", "type": "nominal"}}
        },
        {
          "data": {"name": "rtitle"},
          "mark": {"type": "text", "align": "left", "baseline": "alphabetic", "fontSize": 25, "angle": 270, "color": "black"},
          "encoding": {"text": {"field": "t", "type": "nominal"}}
        },
        {
          "data": {"name": "rsub"},
          "mark": {"type": "text", "align": "left", "baseline": "alphabetic", "fontSize": 16, "angle": 270, "color": "black"},
          "encoding": {"text": {"field": "t", "type": "nominal"}}
        },
        {
          "data": {"values": [{"v": 0.282, "g": 117.8}]},
          "mark": {"type": "point", "shape": "M0,-1A0.306,1 0 1,1 0,1A0.306,1 0 1,1 0,-1Z", "size": 3844, "filled": false, "stroke": "black", "strokeWidth": 1.2, "opacity": 1}
        },
        {
          "data": {"values": [{"v": -0.332, "g": 52.1}]},
          "mark": {"type": "point", "shape": "M0,-1A0.444,1 0 1,1 0,1A0.444,1 0 1,1 0,-1Z", "size": 2025, "filled": false, "stroke": "black", "strokeWidth": 1.2, "opacity": 1}
        },
        {
          "data": {"values": [{"v": -0.674, "g": 14.0}]},
          "mark": {"type": "point", "shape": "M0,-1A0.394,1 0 1,1 0,1A0.394,1 0 1,1 0,-1Z", "size": 1089, "filled": false, "stroke": "black", "strokeWidth": 1.2, "opacity": 1}
        },
        {
          "data": {"name": "arrows"},
          "mark": {"type": "rule", "strokeWidth": 1.3, "color": "black"},
          "encoding": {"x2": {"field": "v2"}}
        },
        {
          "data": {"name": "arrows"},
          "transform": [{"filter": "datum.v2 > 0"}],
          "mark": {"type": "point", "shape": "M1,-0.4L0,0L1,0.4", "size": 1156, "filled": false, "stroke": "black", "strokeWidth": 1.3, "opacity": 1},
          "encoding": {"x": {"field": "v2", "type": "quantitative"}}
        },
        {
          "data": {"name": "arrows"},
          "transform": [{"filter": "datum.v2 < 0"}],
          "mark": {"type": "point", "shape": "M-1,-0.3L0,0L-1,0.3", "size": 1600, "filled": false, "stroke": "black", "strokeWidth": 1.3, "opacity": 1},
          "encoding": {"x": {"field": "v2", "type": "quantitative"}}
        },
        {
          "data": {"name": "lead"},
          "mark": {"type": "rule", "strokeWidth": 1, "color": "black"},
          "encoding": {"x2": {"field": "v2"}, "y2": {"field": "g2"}}
        }
      ]
    },
    {
      "data": {"name": "key"},
      "mark": {"type": "point", "opacity": 0},
      "encoding": {
        "x": {"field": "v", "type": "quantitative",
          "scale": {"domain": [0.8, -1.7], "nice": false, "zero": false},
          "axis": {"orient": "bottom", "values": [0.7, 0.6, 0.4, 0.3, 0.2, 0.1, -0.1, -0.2, -0.3, -0.4, -0.6, -0.7, -0.8, -0.9, -1.1, -1.2, -1.3, -1.4, -1.6],
            "labels": false, "domain": false, "tickSize": -4, "tickWidth": 1.2, "title": null}},
        "y": {"field": "i", "type": "quantitative",
          "scale": {"type": "log", "domain": [1e-14, 1e-3], "nice": false},
          "axis": {"orient": "left",
            "values": [2e-14,3e-14,4e-14,5e-14,6e-14,7e-14,8e-14,9e-14,2e-13,3e-13,4e-13,5e-13,6e-13,7e-13,8e-13,9e-13,2e-12,3e-12,4e-12,5e-12,6e-12,7e-12,8e-12,9e-12,2e-11,3e-11,4e-11,5e-11,6e-11,7e-11,8e-11,9e-11,2e-10,3e-10,4e-10,5e-10,6e-10,7e-10,8e-10,9e-10,2e-9,3e-9,4e-9,5e-9,6e-9,7e-9,8e-9,9e-9,2e-8,3e-8,4e-8,5e-8,6e-8,7e-8,8e-8,9e-8,2e-7,3e-7,4e-7,5e-7,6e-7,7e-7,8e-7,9e-7,2e-6,3e-6,4e-6,5e-6,6e-6,7e-6,8e-6,9e-6,2e-5,3e-5,4e-5,5e-5,6e-5,7e-5,8e-5,9e-5,2e-4,3e-4,4e-4,5e-4,6e-4,7e-4,8e-4,9e-4],
            "labels": false, "domain": false, "tickSize": -4, "tickWidth": 1, "title": null}}
      }
    },
    {
      "data": {"name": "arrows"},
      "mark": {"type": "point", "opacity": 0},
      "encoding": {
        "x": {"field": "v", "type": "quantitative",
          "scale": {"domain": [0.8, -1.7], "nice": false, "zero": false},
          "axis": {"orient": "top", "values": [0.7, 0.6, 0.5, 0.4, 0.3, 0.2, 0.1, 0, -0.1, -0.2, -0.3, -0.4, -0.5, -0.6, -0.7, -0.8, -0.9, -1, -1.1, -1.2, -1.3, -1.4, -1.5, -1.6],
            "labels": false, "domain": false, "tickSize": -4, "tickWidth": 1.2, "title": null}},
        "y": {"field": "g", "type": "quantitative",
          "scale": {"domain": [0, 250], "nice": false, "zero": false},
          "axis": {"orient": "right",
            "values": [5,10,15,25,30,35,45,50,55,65,70,75,85,90,95,105,110,115,125,130,135,145,150,155,165,170,175,185,190,195,205,210,215,225,230,235,245],
            "labels": false, "domain": false, "tickSize": -4, "tickWidth": 1, "title": null}}
      }
    }
  ],
  "resolve": {"scale": {"x": "independent", "y": "independent"}}
}
